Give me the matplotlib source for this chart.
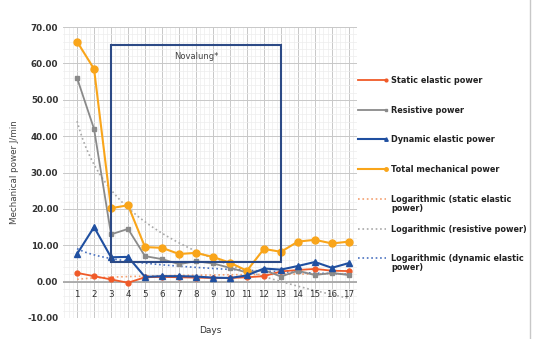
import matplotlib
matplotlib.use("Agg")
import matplotlib.pyplot as plt
from matplotlib.lines import Line2D
from matplotlib.patches import Rectangle
import numpy as np

# values
days = np.arange(1, 18)
static_elastic = [2.4, 1.5, 0.6, -0.3, 1.2, 1.3, 1.2, 1.1, 1.0, 1.0, 1.2, 1.5, 2.8, 3.2, 3.5, 3.0, 2.9]
resistive = [56.0, 42.0, 13.0, 14.5, 7.0, 6.2, 4.8, 5.6, 5.0, 3.8, 2.5, 3.2, 1.4, 3.0, 1.8, 2.4, 1.8]
dynamic_elastic = [7.6, 15.0, 6.7, 6.8, 1.3, 1.5, 1.5, 1.4, 1.1, 1.0, 1.7, 3.6, 3.3, 4.3, 5.4, 3.8, 5.1]
total = [66.0, 58.5, 20.2, 21.0, 9.5, 9.3, 7.6, 7.9, 6.8, 5.2, 3.0, 9.0, 8.2, 11.0, 11.5, 10.5, 11.0]
tick_labels = [str(d) for d in days]
novalung_start, novalung_end = 3, 13
novalung_low, novalung_high = 5.5, 65

c_static = "#F05A28"
c_res = "#8A8A8A"
c_dyn = "#1F4FA0"
c_tot = "#F9A51A"
c_tstatic = "#F4A070"
c_tres = "#A8A8A8"
c_tdyn = "#4A72C0"

fig = plt.figure(figsize=(5.35, 3.39), dpi=100)
ax = fig.add_axes([0.118, 0.062, 0.549, 0.858])

ax.set_xlim(0.18, 17.47)
ax.set_ylim(-10, 70)
ax.set_yticks(np.arange(-10, 71, 10))
ax.set_yticklabels(["%.2f" % v for v in np.arange(-10, 71, 10)], fontsize=6.3,
                   color="#333333", fontweight="bold")
ax.set_yticks(np.arange(-10, 71, 2), minor=True)
ax.set_xticks(days)
ax.set_xticks(np.arange(0.25, 17.5, 0.25), minor=True)
ax.set_xticklabels([])
ax.tick_params(which="both", length=0)
ax.grid(which="major", color="#C8C8C8", lw=0.7)
ax.grid(which="minor", color="#EDEDED", lw=0.5)
ax.set_axisbelow(True)
for s in ax.spines.values():
    s.set_visible(False)
ax.axhline(0, color="#A8A8A8", lw=1.3, zorder=1)

for d, lab in zip(days, tick_labels):
    ax.text(d, -3.6, lab, ha="center", va="center", fontsize=6.3, color="#333333")

ax.set_xlabel("Days", fontsize=6.5, color="#333333", labelpad=2)
ax.set_ylabel("Mechanical power J/min", fontsize=6.3, color="#444444", labelpad=6)

# logarithmic trendlines fitted to the series
xs = np.linspace(1, 17, 200)
def logfit(y):
    a, b = np.polyfit(np.log(days), y, 1)
    return a * np.log(xs) + b

ax.plot(xs, logfit(static_elastic), ls=":", color=c_tstatic, lw=1.2, zorder=2)
ax.plot(xs, logfit(resistive), ls=":", color=c_tres, lw=1.2, zorder=2)
ax.plot(xs, logfit(dynamic_elastic), ls=":", color=c_tdyn, lw=1.2, zorder=2)

ax.plot(days, static_elastic, color=c_static, marker="o", ms=3.5, lw=1.3, zorder=4)
ax.plot(days, resistive, color=c_res, marker="s", ms=3.5, lw=1.3, zorder=4)
ax.plot(days, dynamic_elastic, color=c_dyn, marker="^", ms=4.5, lw=1.5, zorder=5)
ax.plot(days, total, color=c_tot, marker="o", ms=5, lw=1.5, zorder=4)

ax.add_patch(Rectangle((novalung_start, novalung_low), novalung_end - novalung_start,
                       novalung_high - novalung_low, fill=False, ec="#2C4A86", lw=1.5, zorder=6))
ax.text((novalung_start + novalung_end) / 2, 62, "Novalung*", ha="center", va="center",
        fontsize=6, color="#444444")

# legend drawn by hand so the handle sits beside the first text line
legend_items = [
    (dict(color=c_static, marker="o", ms=2, lw=1.3), "Static elastic power"),
    (dict(color=c_res, marker="s", ms=2, lw=1.3), "Resistive power"),
    (dict(color=c_dyn, marker="^", ms=2.5, lw=1.5), "Dynamic elastic power"),
    (dict(color=c_tot, marker="o", ms=2.5, lw=1.5), "Total mechanical power"),
    (dict(color=c_tstatic, ls=":", lw=1.2), "Logarithmic (static elastic\npower)"),
    (dict(color=c_tres, ls=":", lw=1.2), "Logarithmic (resistive power)"),
    (dict(color=c_tdyn, ls=":", lw=1.2), "Logarithmic (dynamic elastic\npower)"),
]
W, H = 535.0, 339.0
for i, (style, text) in enumerate(legend_items):
    yp = 80 + i * 29.7
    yf = 1 - yp / H
    fig.add_artist(Line2D([358 / W, 386 / W], [yf, yf], markevery=[1], **style))
    fig.text(391 / W, 1 - (yp - 4) / H, text, ha="left", va="top", fontsize=5.9,
             fontweight="bold", color="#222222", linespacing=1.0)

fig.add_artist(Line2D([0.99, 0.99], [0.0, 1.0], color="#C8C8C8", lw=1.0))

fig.savefig("out.png", dpi=100)
